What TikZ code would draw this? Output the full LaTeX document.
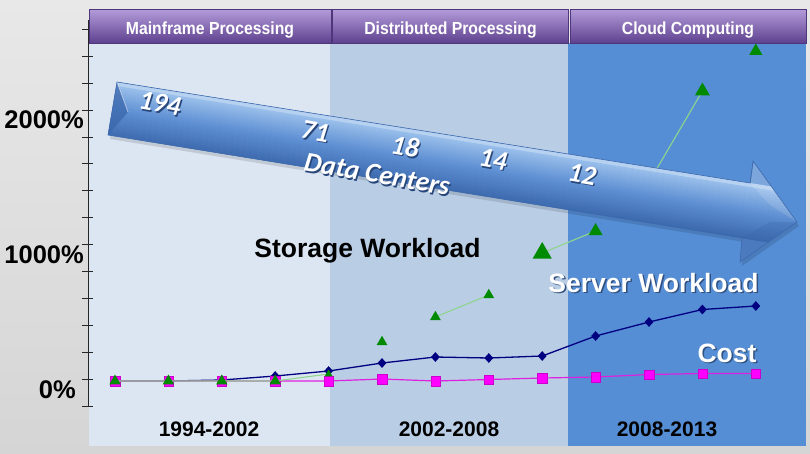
\documentclass[tikz,border=0pt]{standalone}
\usepackage{fontspec}
\setmainfont{Liberation Sans}
\newfontfamily\calfont{Carlito}
\usetikzlibrary{shapes.geometric}

\definecolor{bgTop}{HTML}{E8E8E8}
\definecolor{bgBot}{HTML}{D5D5D5}
\definecolor{bandA}{HTML}{DCE6F2}
\definecolor{bandB}{HTML}{B9CDE5}
\definecolor{bandC}{HTML}{558ED5}
\definecolor{hdrTop}{HTML}{B49CDA}
\definecolor{hdrMid}{HTML}{8465B5}
\definecolor{hdrBot}{HTML}{5E418F}
\definecolor{hdrEdge}{HTML}{4F3579}
\definecolor{costC}{HTML}{FF00FF}
\definecolor{costL}{HTML}{E020E0}
\definecolor{srvC}{HTML}{000080}
\definecolor{stoC}{HTML}{008A00}
\definecolor{stoL}{HTML}{8ED58E}
\definecolor{arHeadUp}{HTML}{6C9AD8}
\definecolor{arHi}{HTML}{B7D1F1}
\definecolor{arLight}{HTML}{97BDEA}
\definecolor{arMid}{HTML}{5E8FD3}
\definecolor{arDark}{HTML}{3A67AC}
\definecolor{arHeadLo}{HTML}{5483C6}
\definecolor{arEdge}{HTML}{3D69AD}
\definecolor{txtShadeArrow}{HTML}{27467A}
\definecolor{txtShadeBand}{HTML}{2F4F7F}

% text with a small drop shadow set behind it
\newcommand\dropshade[2]{\makebox[0pt][l]{\hspace{1.5pt}\raisebox{-1.5pt}{\color{#1}#2}}#2}
% slightly narrowed bold header lettering
\newcommand\hdrtext[1]{\scalebox{0.9}[1]{#1}}

\tikzset{
  hdrbar/.style={draw=hdrEdge, line width=0.6, top color=hdrTop, middle color=hdrMid,
    bottom color=hdrBot, minimum height=34, inner sep=0, text=white,
    font=\fontsize{17.5}{20}\selectfont\bfseries, text height=16, text depth=0},
  axisln/.style={draw=black!85, line width=1},
  ylbl/.style={anchor=base east, inner sep=0, font=\fontsize{25.5}{28}\selectfont\bfseries},
  prdlbl/.style={anchor=base, inner sep=0, font=\fontsize{21}{24}\selectfont\bfseries},
  serlbl/.style={anchor=base, inner sep=0, font=\fontsize{26.5}{30}\selectfont\bfseries},
  costln/.style={draw=costL, line width=1.2},
  costmk/.style={rectangle, fill=costC, draw=costC!80!black, line width=0.3,
    minimum size=9.5, inner sep=0},
  srvln/.style={draw=srvC, line width=1.3},
  srvmk/.style={diamond, fill=srvC, minimum width=9, minimum height=10, inner sep=0},
  stoln/.style={draw=stoL, line width=1.1},
  stomk/.style={regular polygon, regular polygon sides=3, fill=stoC, inner sep=0},
  arrtxt/.style={text=white, rotate=-10, inner sep=0,
    font=\fontsize{27.5}{30}\selectfont\calfont\bfseries\itshape}
}

\begin{document}
\begin{tikzpicture}[x=1pt,y=-1pt]
\useasboundingbox (0,0) rectangle (810,453);
\shade[top color=bgTop, bottom color=bgBot] (0,0) rectangle (810,453);

% period bands
\fill[bandA] (89,43) rectangle (330,446);
\fill[bandB] (330,43) rectangle (568,446);
\fill[bandC] (568,43) rectangle (806,446);

% value axis with ticks
\draw[axisln] (88,20) -- (88,406);
\foreach \k in {0,...,14}
  \draw[axisln] (82,{406-26.9*\k}) -- (93,{406-26.9*\k});
\node[ylbl] (y2000) at (84,128) {2000\%};
\node[ylbl] (y1000) at (84,263) {1000\%};
\node[ylbl] (y0) at (76,398) {0\%};

% period headers
\node[hdrbar, minimum width=242] (hMain) at (210,26) {\hdrtext{Mainframe Processing}};
\node[hdrbar, minimum width=236] (hDist) at (450.5,26) {\hdrtext{Distributed Processing}};
\node[hdrbar, minimum width=236] (hCloud) at (688,26) {\hdrtext{Cloud Computing}};

% period labels
\node[prdlbl] (p1) at (209,436.5) {1994-2002};
\node[prdlbl] (p2) at (449,436.5) {2002-2008};
\node[prdlbl] (p3) at (667,436.5) {2008-2013};

% server workload series
\foreach \i/\v in {0/381,1/381,2/380,3/376,4/371,5/363,6/357,7/358,8/356,9/336,10/322,11/309.5,12/306}
  \coordinate (v\i) at ({115+53.4*\i},\v);
\draw[srvln] (v0) \foreach \i in {1,...,12}{ -- (v\i)};
\foreach \i in {0,...,12} \node[srvmk] (vm\i) at (v\i) {};

% cost series
\foreach \i/\v in {0/381,1/381,2/381,3/381,4/381,5/379,6/381,7/379.5,8/378,9/377,10/374.5,11/373.5,12/373.5}
  \coordinate (c\i) at ({115+53.4*\i},\v);
\draw[costln] (c0) \foreach \i in {1,...,12}{ -- (c\i)};
\foreach \i in {0,...,12} \node[costmk] (cm\i) at (c\i) {};

% storage workload series
\foreach \i/\v in {0/381,1/381,2/381,3/381,4/374,5/342,6/317,7/295,8/253,9/231,10/182,11/91,12/51}
  \coordinate (s\i) at ({115+53.4*\i},\v);
\draw[stoln] (s0) -- (s1) -- (s2) -- (s3) -- (s4);
\draw[stoln] (s6) -- (s7);
\draw[stoln] (s8) -- (s9);
\draw[stoln] (s10) -- (s11);
\foreach \i/\z in {0/13,1/13,2/13,3/13,4/9,5/12.5,6/12.5,7/12.5,8/22,9/16,10/14,11/17,12/15}
  \node[stomk, minimum size=\z] (sm\i) at (s\i) {};

% data-centre arrow
\coordinate (aTL) at (117,82);
\coordinate (aNeckT) at (750,183);
\coordinate (aHeadT) at (753,161);
\coordinate (aTip) at (797,222);
\coordinate (aHeadB) at (740,262);
\coordinate (aNeckB) at (742,238);
\coordinate (aBL) at (108,135);
\fill[black, opacity=0.12] ([xshift=2,yshift=-4]aTL) -- ([xshift=2,yshift=-4]aNeckT)
  -- ([xshift=2,yshift=-4]aHeadT) -- ([xshift=2,yshift=-4]aTip) -- ([xshift=2,yshift=-4]aHeadB)
  -- ([xshift=2,yshift=-4]aNeckB) -- ([xshift=2,yshift=-4]aBL) -- cycle;
\begin{scope}
  \clip (aTL) -- (aNeckT) -- (aHeadT) -- (aTip) -- (aHeadB) -- (aNeckB) -- (aBL) -- cycle;
  \begin{scope}[shift={(117,82)}, rotate=-9.07]
    \foreach \k in {0,...,56}{
      \pgfmathsetmacro\yy{-26+2*\k}
      \pgfmathtruncatemacro\pa{max(0,min(100,100*(28-\yy)/24))}
      \pgfmathtruncatemacro\pb{max(0,min(100,100*(56-\yy)/28))}
      \ifdim\yy pt<0pt \colorlet{strip}{arHeadUp}
      \else\ifdim\yy pt<4pt \colorlet{strip}{arHi}
      \else\ifdim\yy pt<28pt \colorlet{strip}{arLight!\pa!arMid}
      \else\ifdim\yy pt<56pt \colorlet{strip}{arMid!\pb!arDark}
      \else \colorlet{strip}{arHeadLo}\fi\fi\fi\fi
      \fill[strip] (-30,\yy) rectangle (770,\yy+2.4);
    }
  \end{scope}
  % bevelled tail and head facets
  \fill[arDark, opacity=0.75] (aTL) -- (aBL) -- (128,112) -- cycle;
  \draw[white, opacity=0.5, line width=0.8] (aTL) -- (128,112);
  \fill[arDark, opacity=0.3] (aNeckB) -- (aHeadB) -- (aTip) -- (770,222) -- cycle;
  \fill[white, opacity=0.12] (aNeckT) -- (aHeadT) -- (aTip) -- (770,205) -- cycle;
  \draw[arDark, opacity=0.7, line width=1.2] (aNeckT) -- (aHeadT);
\end{scope}
\draw[arEdge, line width=0.6] (aTL) -- (aNeckT) -- (aHeadT) -- (aTip) -- (aHeadB)
  -- (aNeckB) -- (aBL) -- cycle;

% arrow lettering
\foreach \nm/\px/\py/\tx in {n194/160/104/194, n71/315/132/71, n18/405/147/18,
    n14/493/160/14, n12/582/175/12, ndc/377/175/Data Centers}{
  \node[arrtxt] (\nm) at (\px,\py) {\dropshade{txtShadeArrow}{\tx}};
}

% series labels
\node[serlbl] (lStorage) at (367.5,257) {Storage Workload};
\node[serlbl, text=white] (lServer) at (653.5,292) {\dropshade{txtShadeBand}{Server Workload}};
\node[serlbl, text=white] (lCost) at (727,362) {\dropshade{txtShadeBand}{Cost}};
\end{tikzpicture}
\end{document}
